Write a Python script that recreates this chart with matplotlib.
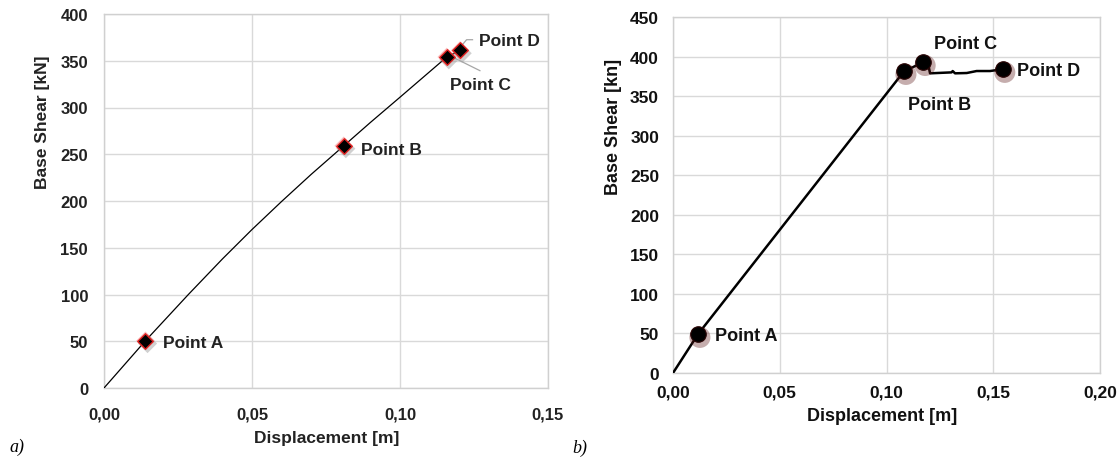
import matplotlib
matplotlib.use("Agg")
import matplotlib.pyplot as plt

# ---------------- data ----------------
# panel a)
a_disp = [0.0, 0.014, 0.0285, 0.04, 0.05, 0.06, 0.07, 0.081, 0.09, 0.10, 0.1158, 0.1203]
a_shear = [0.0, 50.5, 100.0, 138.0, 169.5, 199.5, 228.5, 259.0, 284.0, 311.0, 354.0, 361.0]
a_pts_x = [0.014, 0.081, 0.1158, 0.1203]
a_pts_y = [50.5, 259.0, 354.0, 361.0]
a_xticks = [0.0, 0.05, 0.10, 0.15]
a_xticklabels = ["0,00", "0,05", "0,10", "0,15"]
a_yticks = [0, 50, 100, 150, 200, 250, 300, 350, 400]

# panel b)
b_disp = [0.0, 0.0117, 0.1082, 0.1172, 0.1194, 0.1204, 0.1305, 0.131, 0.1321,
          0.1376, 0.1422, 0.1485, 0.1545]
b_shear = [0.0, 49.0, 381.4, 392.7, 392.0, 378.8, 380.0, 381.7, 378.8,
           379.2, 381.7, 381.7, 384.0]
b_pts_x = [0.0117, 0.1082, 0.1172, 0.1545]
b_pts_y = [49.0, 381.4, 392.7, 384.0]
b_xticks = [0.0, 0.05, 0.10, 0.15, 0.20]
b_xticklabels = ["0,00", "0,05", "0,10", "0,15", "0,20"]
b_yticks = [0, 50, 100, 150, 200, 250, 300, 350, 400, 450]

point_names = ["Point A", "Point B", "Point C", "Point D"]

# ---------------- figure ----------------
W, H = 1118, 460
fig = plt.figure(figsize=(W / 100, H / 100), dpi=100)
plt.rcParams['font.family'] = ['Liberation Sans', 'DejaVu Sans']

def fx(px):
    return px / W

def fy(py):
    return 1 - py / H

grid_c = "#d9d9d9"

def style_axes(ax, fs, xpad, ypad, col):
    for s in ax.spines.values():
        s.set_color("#d0d0d0")
        s.set_linewidth(1.0)
    ax.grid(True, color=grid_c, linewidth=1.0)
    ax.set_axisbelow(True)
    ax.tick_params(length=0, labelsize=fs)
    ax.tick_params(axis='x', pad=xpad)
    ax.tick_params(axis='y', pad=ypad)
    for lab in ax.get_xticklabels() + ax.get_yticklabels():
        lab.set_fontweight('bold')
        lab.set_color(col)

# ----- panel a -----
axA = fig.add_axes([fx(104), fy(389), (548 - 104) / W, (389 - 15) / H])
axA.set_xlim(0, 0.15)
axA.set_ylim(0, 400)
axA.set_xticks(a_xticks)
axA.set_xticklabels(a_xticklabels)
axA.set_yticks(a_yticks)
axA.plot(a_disp, a_shear, color="black", linewidth=0.9, zorder=3)
# soft shadow / red halo
axA.scatter([x + 0.0007 for x in a_pts_x], [y - 3 for y in a_pts_y], marker="D",
            s=95, color="#8a8a8a", alpha=0.4, edgecolors="none", zorder=4)
axA.scatter(a_pts_x, a_pts_y, marker="D", s=90, facecolor="#f04040",
            alpha=0.35, edgecolors="none", zorder=4)
axA.scatter(a_pts_x, a_pts_y, marker="D", s=62, facecolor="black",
            edgecolors="#e02020", linewidths=1.0, zorder=5)
style_axes(axA, 12, 13, 11.5, '#222222')

a_lab_pos = [(0.0198, 49.0), (0.0868, 255.6), (0.1168, 325.0), (0.1267, 371.4)]
for name, (tx, ty) in zip(point_names, a_lab_pos):
    axA.text(tx, ty, name, fontsize=12.5, fontweight='bold', color='#222222',
             ha='left', va='center', zorder=6)
# leader lines for C and D
axA.plot([0.1208, 0.1225, 0.1245], [366.1, 372.5, 372.5], color="#a6a6a6",
         linewidth=0.9, zorder=4)
axA.plot([0.1186, 0.127], [352.6, 339.4], color="#a6a6a6", linewidth=0.9, zorder=4)

fig.text(fx(43), fy(122), "Base Shear [kN]", rotation=90, fontsize=12.5,
         fontweight='bold', color='#222222', ha='center', va='center')
fig.text(fx(327), fy(438), "Displacement [m]", fontsize=12.5,
         fontweight='bold', color='#222222', ha='center', va='center')
fig.text(fx(9), fy(447), "a)", fontsize=13, family=['Liberation Serif', 'DejaVu Serif'],
         style='italic', ha='left', va='center')

# ----- panel b -----
axB = fig.add_axes([fx(673), fy(374), (1100 - 673) / W, (374 - 18) / H])
axB.set_xlim(0, 0.20)
axB.set_ylim(0, 450)
axB.set_xticks(b_xticks)
axB.set_xticklabels(b_xticklabels)
axB.set_yticks(b_yticks)
axB.plot(b_disp, b_shear, color="black", linewidth=1.8, zorder=3)
axB.scatter([x + 0.0009 for x in b_pts_x], [y - 4 for y in b_pts_y], marker="o",
            s=230, color="#5a1515", alpha=0.35, edgecolors="none", zorder=4)
axB.scatter(b_pts_x, b_pts_y, marker="o", s=125, facecolor="black",
            edgecolors="#2a0505", linewidths=0.8, zorder=5)
style_axes(axB, 12.5, 8, 10, '#111111')

b_lab_pos = [(0.0199, 47.1), (0.1099, 338.8), (0.1224, 416.7), (0.1613, 383.0)]
for name, (tx, ty) in zip(point_names, b_lab_pos):
    axB.text(tx, ty, name, fontsize=13, fontweight='bold', color='#111111',
             ha='left', va='center', zorder=6)

fig.text(fx(613), fy(127), "Base Shear [kn]", rotation=90, fontsize=13,
         fontweight='bold', color='#111111', ha='center', va='center')
fig.text(fx(882), fy(417), "Displacement [m]", fontsize=13,
         fontweight='bold', color='#111111', ha='center', va='center')
fig.text(fx(572), fy(448), "b)", fontsize=13, family=['Liberation Serif', 'DejaVu Serif'],
         style='italic', ha='left', va='center')

fig.savefig("out.png", dpi=100)
